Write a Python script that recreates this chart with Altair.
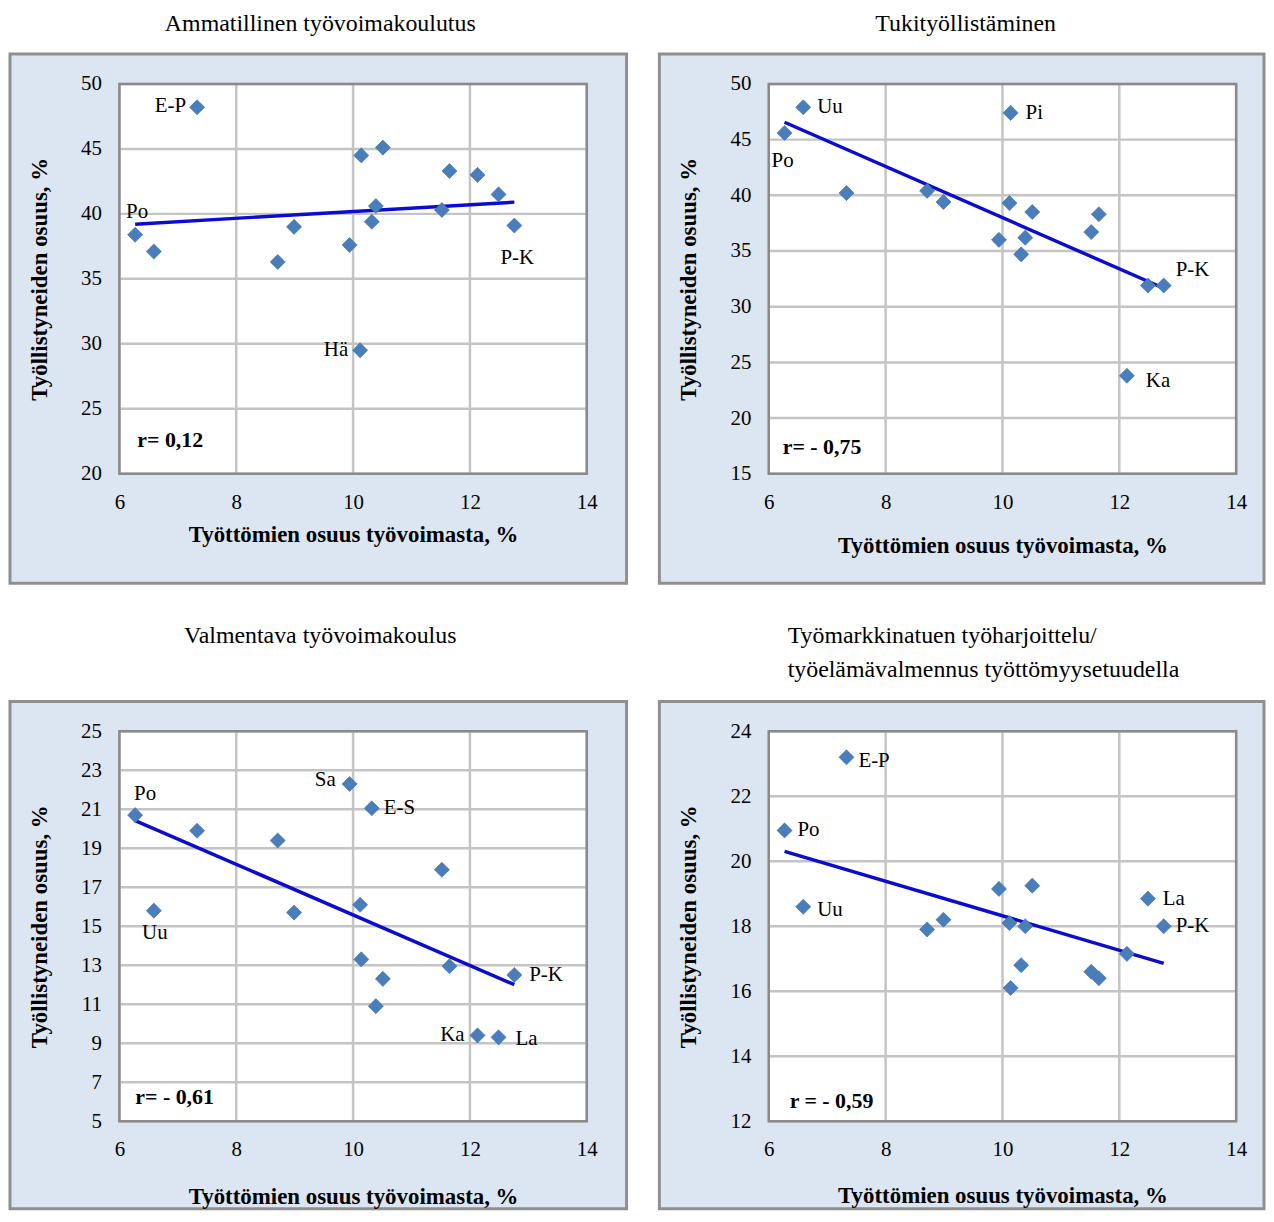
import altair as alt
import pandas as pd

FONT = "Liberation Serif"

# ---- data ----
x_unemp = [6.27, 6.59, 7.33, 8.71, 8.99, 9.94, 10.12, 10.14, 10.32, 10.39, 10.51,
           11.52, 11.65, 12.13, 12.49, 12.76]

y_ammatillinen = [38.4, 37.1, 48.2, 36.3, 39.0, 37.6, 29.5, 44.5, 39.4, 40.6, 45.1,
                  40.3, 43.3, 43.0, 41.5, 39.1]
y_tuki = [45.6, 47.9, 40.2, 40.4, 39.4, 36.0, 39.3, 47.4, 34.7, 36.2, 38.5,
          36.7, 38.3, 23.8, 31.9, 31.9]
y_valmentava = [20.7, 15.8, 19.9, 19.4, 15.7, 22.3, 16.1, 13.3, 21.05, 10.9, 12.3,
                17.9, 12.95, 9.4, 9.3, 12.5]
y_tyoharj = [20.95, 18.6, 23.2, 17.9, 18.2, 19.15, 18.1, 16.1, 16.8, 18.0, 19.25,
             16.6, 16.4, 17.15, 18.85, 18.0]

lab_ammatillinen = ["Po", "", "E-P", "", "", "", "Hä", "", "", "", "", "", "", "", "", "P-K"]
lab_tuki = ["Po", "Uu", "", "", "", "", "", "Pi", "", "", "", "", "", "Ka", "", "P-K"]
lab_valmentava = ["Po", "Uu", "", "", "", "Sa", "", "", "E-S", "", "", "", "", "Ka", "La", "P-K"]
lab_tyoharj = ["Po", "Uu", "E-P", "", "", "", "", "", "", "", "", "", "", "", "La", "P-K"]

x_ticks = [6, 8, 10, 12, 14]
yt_ammatillinen = [20, 25, 30, 35, 40, 45, 50]
yt_tuki = [15, 20, 25, 30, 35, 40, 45, 50]
yt_valmentava = [5, 7, 9, 11, 13, 15, 17, 19, 21, 23, 25]
yt_tyoharj = [12, 14, 16, 18, 20, 22, 24]

r_texts = ["r= 0,12", "r= - 0,75", "r= - 0,61", "r = - 0,59"]
titles = [["Ammatillinen työvoimakoulutus"], ["Tukityöllistäminen"],
          ["Valmentava työvoimakoulus"],
          ["Työmarkkinatuen työharjoittelu/", "työelämävalmennus työttömyysetuudella"]]
x_title = "Työttömien osuus työvoimasta, %"
y_title = "Työllistyneiden osuus, %"

# ---- styling ----
W, H = 470, 392
BOX_FILL = "#dce6f2"
BOX_STROKE = "#8f8f8f"
GRID = "#c4c4c4"
BORDER = "#8a8a8a"
PT = "#4a7ebb"
LINE = "#0c0cd0"

ONE = alt.Data(values=[{}])


def panel(title_lines, title_x, title_ys, title_align, ys, labels, yticks, rtext, rpos,
          placements, xtitle_pad, right_margin, bottom_margin):
    df = pd.DataFrame({"x": x_unemp, "y": ys, "label": labels})
    xscale = alt.Scale(domain=[x_ticks[0], x_ticks[-1]], nice=False, zero=False)
    yscale = alt.Scale(domain=[yticks[0], yticks[-1]], nice=False, zero=False)
    common = dict(grid=False, domain=False, ticks=False, tickSize=0, labelPadding=18,
                  labelFont=FONT, labelFontSize=21, labelColor="#000",
                  titleFont=FONT, titleFontSize=23, titleFontWeight="bold",
                  titleColor="#000", labelFlush=False, labelOverlap=False, zindex=1)
    xaxis = alt.Axis(values=x_ticks, title=x_title, titlePadding=xtitle_pad, **common)
    yaxis = alt.Axis(values=yticks, title=y_title, titlePadding=29.5, **common)
    X = alt.X("x:Q", scale=xscale, axis=xaxis)
    Y = alt.Y("y:Q", scale=yscale, axis=yaxis)

    layers = []
    layers.append(alt.Chart(ONE).mark_rect(fill=BOX_FILL, stroke=BOX_STROKE, strokeWidth=3).encode(
        x=alt.value(-110), x2=alt.value(W + right_margin),
        y=alt.value(-30), y2=alt.value(H + bottom_margin)))
    layers.append(alt.Chart(ONE).mark_rect(fill="white").encode(
        x=alt.value(0), x2=alt.value(W), y=alt.value(0), y2=alt.value(H)))
    layers.append(alt.Chart(pd.DataFrame({"x": x_ticks})).mark_rule(color=GRID, strokeWidth=2.5).encode(
        x=X, y=alt.value(0), y2=alt.value(H)))
    layers.append(alt.Chart(pd.DataFrame({"y": yticks})).mark_rule(color=GRID, strokeWidth=2.5).encode(
        y=Y, x=alt.value(0), x2=alt.value(W)))
    layers.append(alt.Chart(ONE).mark_rect(fillOpacity=0, stroke=BORDER, strokeWidth=2.5).encode(
        x=alt.value(0), x2=alt.value(W), y=alt.value(0), y2=alt.value(H)))
    layers.append(alt.Chart(df).transform_regression("x", "y").mark_line(
        color=LINE, strokeWidth=3.5).encode(x=X, y=Y))
    layers.append(alt.Chart(df).mark_point(shape="diamond", filled=True, fill=PT, opacity=1,
                                           stroke="#3d6da8", strokeWidth=0.6, size=230).encode(x=X, y=Y))
    for name, (align, dx, dy) in placements.items():
        layers.append(alt.Chart(df).transform_filter(alt.datum.label == name).mark_text(
            align=align, dx=dx, dy=dy, font=FONT, fontSize=21, color="#000").encode(
            x=X, y=Y, text="label:N"))
    layers.append(alt.Chart(ONE).mark_text(align="left", font=FONT, fontSize=22, fontWeight="bold",
                                           color="#000").encode(
        x=alt.value(rpos[0]), y=alt.value(rpos[1]), text=alt.value(rtext)))
    for line, ty in zip(title_lines, title_ys):
        layers.append(alt.Chart(ONE).mark_text(align=title_align, font=FONT, fontSize=24,
                                               color="#000").encode(
            x=alt.value(title_x), y=alt.value(ty), text=alt.value(line)))
    return alt.layer(*layers).properties(width=W, height=H)


p1 = panel(titles[0], 202, [-60], "center", y_ammatillinen, lab_ammatillinen, yt_ammatillinen,
           r_texts[0], (18, 358),
           {"E-P": ("right", -11, -1), "Po": ("center", 2, -23), "Hä": ("right", -12, 0),
            "P-K": ("center", 3, 33)},
           11.5, 40, 110)
p2 = panel(titles[1], 198, [-60], "center", y_tuki, lab_tuki, yt_tuki,
           r_texts[1], (14, 365),
           {"Uu": ("left", 14, 0), "Po": ("center", -2, 28), "Pi": ("left", 15, 0),
            "Ka": ("left", 19, 5), "P-K": ("left", 12, -16)},
           22.5, 28, 110)
p3 = panel(titles[2], 202, [-96], "center", y_valmentava, lab_valmentava, yt_valmentava,
           r_texts[2], (16, 368),
           {"Po": ("center", 10, -21), "Uu": ("center", 1, 23), "Sa": ("right", -14, -4),
            "E-S": ("left", 12, 0), "Ka": ("right", -13, 0), "La": ("left", 17, 2),
            "P-K": ("left", 15, 0)},
           26, 40, 88)
p4 = panel(titles[3], 19, [-96, -62], "left", y_tyoharj, lab_tyoharj, yt_tyoharj,
           r_texts[3], (21, 372),
           {"E-P": ("left", 12, 4), "Po": ("left", 13, 0), "Uu": ("left", 14, 3),
            "La": ("left", 15, 0), "P-K": ("left", 12, 0)},
           25, 28, 88)

chart = alt.vconcat(
    alt.hconcat(p1, p2, spacing=29),
    alt.hconcat(p3, p4, spacing=29),
    spacing=38,
).properties(padding=0, background="white").configure_view(stroke="transparent")

chart.save("out.html", embed_options={"renderer": "svg", "actions": False})
